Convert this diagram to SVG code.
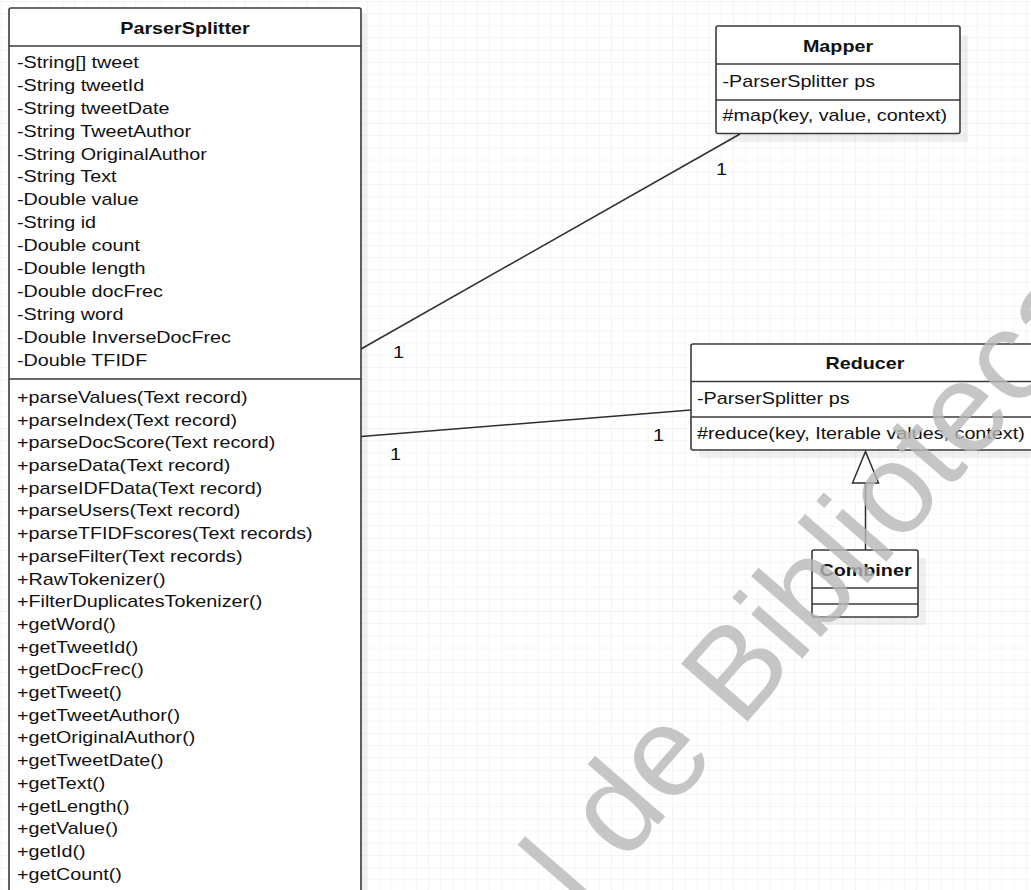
<svg xmlns="http://www.w3.org/2000/svg" width="1031" height="890" viewBox="0 0 1031 890">
  <defs>
    <pattern id="grid" width="12.2" height="12.2" patternUnits="userSpaceOnUse" x="1" y="1">
      <path d="M12.2 0 L0 0 0 12.2" fill="none" stroke="#e8ecec" stroke-width="1"/>
    </pattern>
    <style>
      .box { fill: #ffffff; stroke: #3a3a3a; stroke-width: 1.6; }
      .shadow { fill: #000000; opacity: 0.06; }
      .sep { stroke: #3a3a3a; stroke-width: 1.6; fill: none; }
      .conn { stroke: #2e2e2e; stroke-width: 1.5; fill: none; }
      text { font-family: "Liberation Sans", Arial, Helvetica, sans-serif; font-size: 16.6px; fill: #111111; }
      .title { font-weight: bold; text-anchor: middle; }
      .mult { font-size: 16.6px; }
      .wm { font-family: "Liberation Sans", Arial, sans-serif; font-size: 128px; fill: #b8b8b8; opacity: 0.8; }
    </style>
  </defs>

  <!-- canvas with grid -->
  <rect x="0" y="0" width="1031" height="890" fill="#ffffff"/>
  <rect x="0" y="0" width="1031" height="890" fill="url(#grid)"/>

  <!-- associations and generalization -->
  <g id="connectors">
    <line class="conn" x1="361" y1="349" x2="740" y2="134"/>
    <line class="conn" x1="361" y1="436.5" x2="691" y2="410"/>
    <line class="conn" x1="865.5" y1="483" x2="865.5" y2="550"/>
    <polygon points="865.5,451.5 852.5,483 878.5,483" fill="#ffffff" stroke="#2e2e2e" stroke-width="1.5"/>
    <g transform="translate(716,175) scale(1.2,1)"><text class="mult" x="0" y="0">1</text></g>
    <g transform="translate(393,358) scale(1.2,1)"><text class="mult" x="0" y="0">1</text></g>
    <g transform="translate(390,460) scale(1.2,1)"><text class="mult" x="0" y="0">1</text></g>
    <g transform="translate(653,441) scale(1.2,1)"><text class="mult" x="0" y="0">1</text></g>
  </g>

  <!-- class ParserSplitter -->
  <g id="ParserSplitter">
    <rect class="shadow" x="15" y="14" width="352" height="900"/>
    <rect class="box" x="9" y="8" width="352" height="900" rx="2"/>
    <line class="sep" x1="9" y1="46" x2="361" y2="46"/>
    <line class="sep" x1="9" y1="379" x2="361" y2="379"/>
    <g transform="translate(185,0) scale(1.19,1)"><text class="title" x="0" y="34">ParserSplitter</text></g>
    <g transform="translate(17,0) scale(1.19,1)">
      <text y="68">
        <tspan x="0">-String[] tweet</tspan>
        <tspan x="0" dy="22.9">-String tweetId</tspan>
        <tspan x="0" dy="22.9">-String tweetDate</tspan>
        <tspan x="0" dy="22.9">-String TweetAuthor</tspan>
        <tspan x="0" dy="22.9">-String OriginalAuthor</tspan>
        <tspan x="0" dy="22.9">-String Text</tspan>
        <tspan x="0" dy="22.9">-Double value</tspan>
        <tspan x="0" dy="22.9">-String id</tspan>
        <tspan x="0" dy="22.9">-Double count</tspan>
        <tspan x="0" dy="22.9">-Double length</tspan>
        <tspan x="0" dy="22.9">-Double docFrec</tspan>
        <tspan x="0" dy="22.9">-String word</tspan>
        <tspan x="0" dy="22.9">-Double InverseDocFrec</tspan>
        <tspan x="0" dy="22.9">-Double TFIDF</tspan>
      </text>
      <text y="403">
        <tspan x="0">+parseValues(Text record)</tspan>
        <tspan x="0" dy="22.7">+parseIndex(Text record)</tspan>
        <tspan x="0" dy="22.7">+parseDocScore(Text record)</tspan>
        <tspan x="0" dy="22.7">+parseData(Text record)</tspan>
        <tspan x="0" dy="22.7">+parseIDFData(Text record)</tspan>
        <tspan x="0" dy="22.7">+parseUsers(Text record)</tspan>
        <tspan x="0" dy="22.7">+parseTFIDFscores(Text records)</tspan>
        <tspan x="0" dy="22.7">+parseFilter(Text records)</tspan>
        <tspan x="0" dy="22.7">+RawTokenizer()</tspan>
        <tspan x="0" dy="22.7">+FilterDuplicatesTokenizer()</tspan>
        <tspan x="0" dy="22.7">+getWord()</tspan>
        <tspan x="0" dy="22.7">+getTweetId()</tspan>
        <tspan x="0" dy="22.7">+getDocFrec()</tspan>
        <tspan x="0" dy="22.7">+getTweet()</tspan>
        <tspan x="0" dy="22.7">+getTweetAuthor()</tspan>
        <tspan x="0" dy="22.7">+getOriginalAuthor()</tspan>
        <tspan x="0" dy="22.7">+getTweetDate()</tspan>
        <tspan x="0" dy="22.7">+getText()</tspan>
        <tspan x="0" dy="22.7">+getLength()</tspan>
        <tspan x="0" dy="22.7">+getValue()</tspan>
        <tspan x="0" dy="22.7">+getId()</tspan>
        <tspan x="0" dy="22.7">+getCount()</tspan>
      </text>
    </g>
  </g>

  <!-- class Mapper -->
  <g id="Mapper">
    <rect class="shadow" x="724" y="35" width="244" height="107"/>
    <rect class="box" x="716" y="26" width="244" height="107.5" rx="2"/>
    <line class="sep" x1="716" y1="64" x2="960" y2="64"/>
    <line class="sep" x1="716" y1="100" x2="960" y2="100"/>
    <g transform="translate(838,0) scale(1.19,1)"><text class="title" x="0" y="52">Mapper</text></g>
    <g transform="translate(722.5,0) scale(1.19,1)">
      <text x="0" y="87">-ParserSplitter ps</text>
      <text x="0" y="121.5">#map(key, value, context)</text>
    </g>
  </g>

  <!-- class Reducer -->
  <g id="Reducer">
    <rect class="shadow" x="699" y="352" width="348" height="106"/>
    <rect class="box" x="691" y="344" width="348" height="106" rx="2"/>
    <line class="sep" x1="691" y1="381.5" x2="1039" y2="381.5"/>
    <line class="sep" x1="691" y1="417" x2="1039" y2="417"/>
    <g transform="translate(865,0) scale(1.19,1)"><text class="title" x="0" y="369">Reducer</text></g>
    <g transform="translate(697,0) scale(1.19,1)">
      <text x="0" y="404">-ParserSplitter ps</text>
      <text x="0" y="439">#reduce(key, Iterable values, context)</text>
    </g>
  </g>

  <!-- class Combiner -->
  <g id="Combiner">
    <rect class="shadow" x="820" y="558" width="106" height="67"/>
    <rect class="box" x="812" y="550" width="106" height="67" rx="2"/>
    <line class="sep" x1="812" y1="588" x2="918" y2="588"/>
    <line class="sep" x1="812" y1="604" x2="918" y2="604"/>
    <g transform="translate(865.5,0) scale(1.19,1)"><text class="title" x="0" y="576">Combiner</text></g>
  </g>

  <!-- repository watermark -->
  <text class="wm" transform="translate(582,912) rotate(-49)">l de Biblioteca</text>
</svg>
